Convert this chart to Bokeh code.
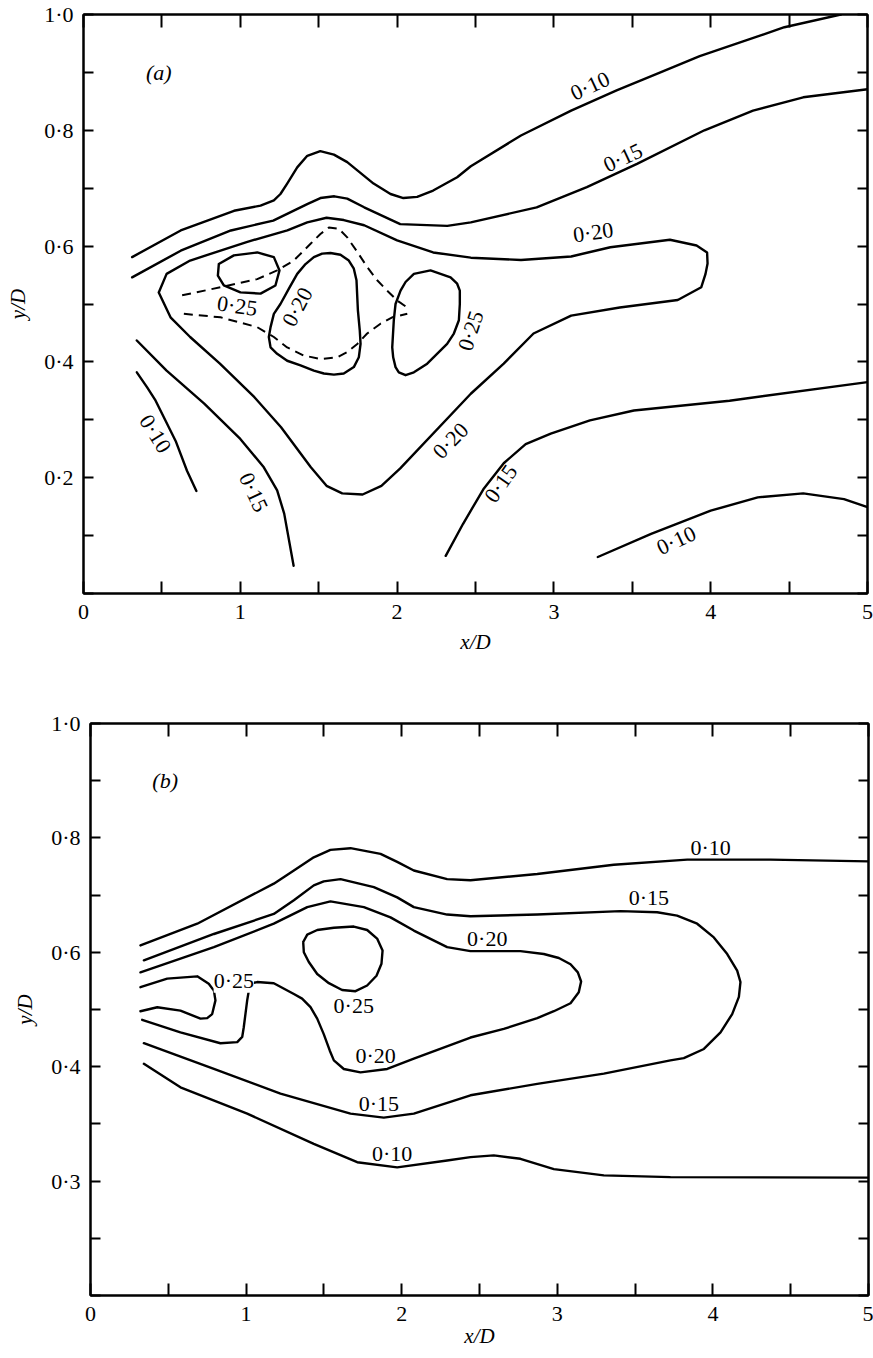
import numpy as np
from bokeh.plotting import figure
from bokeh.models import (LinearAxis, FixedTicker, CustomJSTickFormatter, Label,
                          ColumnDataSource, Range1d)
from bokeh.layouts import column
from bokeh.core.properties import value
from bokeh.embed import file_html
from bokeh.resources import INLINE

FONT = "Liberation Serif"

# ---------------- axis ticks / labels ----------------
X_TICKS = [0.0, 0.5, 1.0, 1.5, 2.0, 2.5, 3.0, 3.5, 4.0, 4.5, 5.0]
X_LABEL_VALUES = [0.0, 1.0, 2.0, 3.0, 4.0, 5.0]
X_LABELS = ["0", "1", "2", "3", "4", "5"]
Y_TICKS = [0.0, 0.1, 0.2, 0.3, 0.4, 0.5, 0.6, 0.7, 0.8, 0.9, 1.0]
YA_LABEL_VALUES = [0.2, 0.4, 0.6, 0.8, 1.0]
YA_LABELS = ["0·2", "0·4", "0·6", "0·8", "1·0"]
YB_LABEL_VALUES = [0.2, 0.4, 0.6, 0.8, 1.0]
YB_LABELS = ["0·3", "0·4", "0·6", "0·8", "1·0"]

# ---------------- panel (a) contours ----------------
A10_UP_X = [0.31, 0.62, 0.96, 1.129, 1.214, 1.256, 1.299, 1.363, 1.427, 1.51, 1.597, 1.682, 1.85, 1.958, 2.04, 2.128, 2.23, 2.383, 2.47, 2.79, 3.11, 3.40, 3.66, 3.93, 4.47, 4.83]
A10_UP_Y = [0.581, 0.627, 0.661, 0.670, 0.679, 0.690, 0.708, 0.736, 0.756, 0.764, 0.758, 0.745, 0.708, 0.690, 0.683, 0.685, 0.696, 0.719, 0.738, 0.791, 0.834, 0.869, 0.898, 0.928, 0.978, 1.0]

A15_UP_X = [0.31, 0.62, 0.94, 1.21, 1.43, 1.511, 1.60, 1.682, 1.79, 2.02, 2.32, 2.47, 2.89, 3.21, 3.53, 3.96, 4.27, 4.59, 5.0]
A15_UP_Y = [0.546, 0.592, 0.627, 0.644, 0.673, 0.683, 0.686, 0.682, 0.667, 0.638, 0.635, 0.641, 0.667, 0.702, 0.742, 0.800, 0.834, 0.857, 0.871]

A20_X = [0.48, 0.53, 0.68, 1.04, 1.30, 1.427, 1.55, 1.660, 1.79, 2.00, 2.23, 2.47, 2.79, 3.11, 3.36, 3.74, 3.91, 3.977, 3.98, 3.967, 3.94, 3.79, 3.42, 3.11, 2.87, 2.68, 2.47, 2.02, 1.90, 1.78, 1.65, 1.55, 1.45, 1.26, 1.09, 0.87, 0.68, 0.555, 0.48]
A20_Y = [0.520, 0.552, 0.575, 0.607, 0.627, 0.641, 0.649, 0.645, 0.636, 0.610, 0.589, 0.580, 0.576, 0.582, 0.598, 0.611, 0.601, 0.589, 0.570, 0.552, 0.529, 0.507, 0.494, 0.480, 0.449, 0.397, 0.345, 0.216, 0.186, 0.171, 0.173, 0.186, 0.218, 0.287, 0.339, 0.397, 0.443, 0.477, 0.520]

A25_LEFT_X = [0.863, 0.959, 1.108, 1.214, 1.25, 1.224, 1.129, 1.001, 0.895, 0.857, 0.863]
A25_LEFT_Y = [0.569, 0.584, 0.589, 0.581, 0.558, 0.532, 0.518, 0.520, 0.532, 0.549, 0.569]

A20_IN_X = [1.182, 1.193, 1.214, 1.256, 1.309, 1.363, 1.416, 1.469, 1.522, 1.575, 1.639, 1.692, 1.724, 1.741, 1.750, 1.762, 1.767, 1.756, 1.724, 1.660, 1.597, 1.533, 1.469, 1.384, 1.299, 1.235, 1.193, 1.182]
A20_IN_Y = [0.443, 0.460, 0.483, 0.500, 0.526, 0.552, 0.569, 0.581, 0.587, 0.588, 0.585, 0.575, 0.561, 0.541, 0.489, 0.454, 0.431, 0.408, 0.391, 0.380, 0.378, 0.380, 0.385, 0.394, 0.402, 0.414, 0.425, 0.443]

A25_RIGHT_X = [1.979, 1.990, 2.022, 2.054, 2.107, 2.213, 2.341, 2.383, 2.400, 2.400, 2.394, 2.362, 2.319, 2.192, 2.107, 2.054, 2.011, 1.990, 1.975, 1.969, 1.979]
A25_RIGHT_Y = [0.472, 0.500, 0.523, 0.538, 0.552, 0.558, 0.546, 0.535, 0.523, 0.500, 0.472, 0.449, 0.431, 0.397, 0.382, 0.377, 0.382, 0.391, 0.408, 0.425, 0.472]

A_DASH_UP_X = [0.629, 0.874, 1.108, 1.235, 1.341, 1.448, 1.511, 1.565, 1.628, 1.682, 1.746, 1.809, 1.873, 1.937, 2.001, 2.075]
A_DASH_UP_Y = [0.515, 0.529, 0.543, 0.558, 0.575, 0.604, 0.621, 0.632, 0.630, 0.615, 0.590, 0.564, 0.541, 0.523, 0.506, 0.492]
A_DASH_LO_X = [0.640, 0.874, 1.108, 1.214, 1.299, 1.405, 1.511, 1.618, 1.682, 1.746, 1.809, 1.894, 1.969, 2.065]
A_DASH_LO_Y = [0.483, 0.477, 0.460, 0.443, 0.425, 0.411, 0.405, 0.408, 0.417, 0.431, 0.449, 0.466, 0.477, 0.483]

A10_LL_X = [0.34, 0.406, 0.46, 0.59, 0.66, 0.72]
A10_LL_Y = [0.382, 0.356, 0.333, 0.262, 0.212, 0.177]

A15_LL_X = [0.34, 0.53, 0.77, 1.00, 1.15, 1.235, 1.28, 1.34]
A15_LL_Y = [0.437, 0.385, 0.328, 0.267, 0.218, 0.178, 0.138, 0.048]

A15_LR_X = [2.31, 2.42, 2.55, 2.68, 2.82, 2.98, 3.23, 3.51, 4.12, 5.0]
A15_LR_Y = [0.065, 0.12, 0.18, 0.225, 0.258, 0.276, 0.299, 0.316, 0.333, 0.365]

A10_LR_X = [3.28, 3.62, 4.00, 4.30, 4.59, 4.85, 5.0]
A10_LR_Y = [0.063, 0.103, 0.143, 0.166, 0.173, 0.163, 0.149]

A_LABEL_X = [3.23, 3.44, 3.25, 0.98, 1.363, 2.468, 0.459, 1.086, 2.34, 2.66, 3.78]
A_LABEL_Y = [0.877, 0.753, 0.624, 0.497, 0.495, 0.454, 0.276, 0.175, 0.264, 0.19, 0.092]
A_LABEL_TEXT = ["0·10", "0·15", "0·20", "0·25", "0·20", "0·25", "0·10", "0·15", "0·20", "0·15", "0·10"]
A_LABEL_ANGLE = [25, 25, 8, -8, 62, 72, -58, -65, 46, 55, 25]

# ---------------- panel (b) contours ----------------
B10_UP_X = [0.321, 0.686, 1.178, 1.307, 1.435, 1.542, 1.671, 1.864, 1.971, 2.078, 2.292, 2.442, 2.871, 3.363, 3.835, 4.370, 5.0]
B10_UP_Y = [0.612, 0.650, 0.720, 0.743, 0.766, 0.779, 0.782, 0.772, 0.758, 0.743, 0.728, 0.726, 0.737, 0.753, 0.762, 0.762, 0.759]

B15_X = [0.343, 0.793, 1.178, 1.307, 1.435, 1.499, 1.607, 1.821, 1.971, 2.078, 2.292, 2.442, 2.871, 3.406, 3.642, 3.770, 3.899, 4.006, 4.092, 4.156, 4.177, 4.167, 4.124, 4.049, 3.942, 3.813, 3.727, 3.299, 2.871, 2.442, 2.078, 1.885, 1.671, 1.221, 0.793, 0.343]
B15_Y = [0.586, 0.632, 0.667, 0.691, 0.717, 0.724, 0.728, 0.714, 0.696, 0.679, 0.666, 0.663, 0.666, 0.672, 0.670, 0.664, 0.650, 0.626, 0.597, 0.568, 0.548, 0.522, 0.492, 0.460, 0.431, 0.415, 0.411, 0.388, 0.370, 0.350, 0.318, 0.311, 0.318, 0.353, 0.396, 0.441]

B20_X = [0.321, 0.793, 1.178, 1.393, 1.542, 1.757, 1.928, 2.078, 2.292, 2.442, 2.763, 2.913, 3.010, 3.085, 3.132, 3.153, 3.138, 3.085, 2.978, 2.871, 2.656, 2.442, 2.078, 1.907, 1.735, 1.628, 1.564, 1.538, 1.499, 1.457, 1.414, 1.360, 1.307, 1.178, 1.071, 1.025, 1.007, 0.985, 0.975, 0.943, 0.835, 0.578, 0.332]
B20_Y = [0.565, 0.609, 0.650, 0.679, 0.689, 0.679, 0.661, 0.638, 0.609, 0.602, 0.602, 0.597, 0.590, 0.579, 0.565, 0.549, 0.530, 0.511, 0.497, 0.485, 0.466, 0.451, 0.414, 0.396, 0.390, 0.396, 0.411, 0.428, 0.457, 0.484, 0.504, 0.519, 0.527, 0.546, 0.548, 0.545, 0.516, 0.469, 0.452, 0.443, 0.441, 0.460, 0.482]

B25_LEFT_X = [0.321, 0.493, 0.686, 0.760, 0.793, 0.803, 0.782, 0.750, 0.707, 0.578, 0.429, 0.321]
B25_LEFT_Y = [0.539, 0.554, 0.558, 0.545, 0.533, 0.516, 0.492, 0.485, 0.484, 0.498, 0.504, 0.497]

B25_MID_X = [1.367, 1.393, 1.457, 1.564, 1.692, 1.778, 1.842, 1.877, 1.870, 1.838, 1.778, 1.703, 1.617, 1.532, 1.457, 1.403, 1.371, 1.367]
B25_MID_Y = [0.618, 0.631, 0.639, 0.643, 0.645, 0.639, 0.624, 0.603, 0.580, 0.559, 0.542, 0.532, 0.534, 0.546, 0.562, 0.583, 0.600, 0.618]

B10_LO_X = [0.343, 0.578, 1.007, 1.435, 1.714, 1.971, 2.292, 2.442, 2.592, 2.763, 2.978, 3.299, 3.727, 5.0]
B10_LO_Y = [0.405, 0.364, 0.318, 0.265, 0.233, 0.224, 0.236, 0.242, 0.245, 0.239, 0.221, 0.210, 0.207, 0.206]

B_LABEL_X = [3.985, 3.588, 2.55, 1.692, 1.832, 1.853, 1.939]
B_LABEL_Y = [0.784, 0.696, 0.624, 0.507, 0.420, 0.335, 0.248]
B_LABEL_TEXT = ["0·10", "0·15", "0·20", "0·25", "0·20", "0·15", "0·10"]
B_LABEL_ANGLE = [0, 0, 0, 0, 0, 0, 0]
B_BOXED_X = [0.921]
B_BOXED_Y = [0.551]
B_BOXED_TEXT = ["0·25"]

PANEL_TAG_X = 0.48
PANEL_TAG_Y = 0.90


def make_panel(frame_w, frame_h, left, right, top, bottom, ylab_vals, ylabs, tag,
               xlab_standoff, margin_left=0):
    p = figure(frame_width=frame_w, frame_height=frame_h,
               x_range=Range1d(0, 5), y_range=Range1d(0, 1),
               output_backend="svg", toolbar_location=None,
               min_border_left=left, min_border_right=right,
               min_border_top=top, min_border_bottom=bottom,
               background_fill_color="white", border_fill_color="white",
               margin=(0, 0, 0, margin_left))
    p.grid.visible = False
    p.outline_line_color = "black"
    p.outline_line_width = 2

    def style(ax, ticks, tick_len, labels=None, label_vals=None):
        ax.ticker = FixedTicker(ticks=ticks, minor_ticks=[])
        ax.major_tick_in = tick_len
        ax.major_tick_out = 0
        ax.minor_tick_in = 0
        ax.minor_tick_out = 0
        ax.axis_line_width = 2
        ax.axis_line_color = "black"
        ax.major_tick_line_width = 2
        ax.major_tick_line_color = "black"
        ax.formatter = CustomJSTickFormatter(code="return ''")
        if labels is not None:
            ax.major_label_overrides = {v: t for v, t in zip(label_vals, labels)}
            ax.major_label_text_font = FONT
            ax.major_label_text_font_size = "22px"
            ax.major_label_text_color = "black"
        else:
            ax.major_label_text_font_size = "0px"
            ax.major_label_standoff = 0

    bx = p.xaxis[0]
    style(bx, X_TICKS, 12, X_LABELS, X_LABEL_VALUES)
    bx.major_label_standoff = 11
    bx.axis_label = "x/D"
    bx.axis_label_text_font = FONT
    bx.axis_label_text_font_style = "italic"
    bx.axis_label_text_font_size = "21px"
    bx.axis_label_text_color = "black"
    bx.axis_label_standoff = xlab_standoff

    ly = p.yaxis[0]
    style(ly, Y_TICKS, 10, ylabs, ylab_vals)
    ly.major_label_standoff = 10
    ly.axis_label = "y/D"
    ly.axis_label_text_font = FONT
    ly.axis_label_text_font_style = "italic"
    ly.axis_label_text_font_size = "21px"
    ly.axis_label_text_color = "black"
    ly.axis_label_standoff = 11

    tx = LinearAxis()
    style(tx, X_TICKS, 13)
    p.add_layout(tx, "above")
    ry = LinearAxis()
    style(ry, Y_TICKS, 10)
    p.add_layout(ry, "right")

    p.add_layout(Label(x=PANEL_TAG_X, y=PANEL_TAG_Y, text=tag, text_font=FONT,
                       text_font_style="italic", text_font_size="22px",
                       text_color="black",
                       text_align="center", text_baseline="middle"))
    return p


def draw(p, xs, ys, dashed=False):
    if dashed:
        p.line(xs, ys, line_color="black", line_width=2.0, line_dash="9 6")
    else:
        p.line(xs, ys, line_color="black", line_width=2.4,
               line_join="round", line_cap="round")


def labels(p, xs, ys, texts, angles):
    src = ColumnDataSource(dict(x=xs, y=ys, text=texts, angle=angles))
    p.text(x="x", y="y", text="text", angle="angle", angle_units="deg", source=src,
           text_font=value(FONT), text_font_size="22px", text_color="black",
           text_align="center", text_baseline="middle")


# ---------- panel a ----------
pa = make_panel(784, 579, 83, 6, 14, 87, YA_LABEL_VALUES, YA_LABELS, "(a)", 8)
for xs, ys in [(A10_UP_X, A10_UP_Y), (A15_UP_X, A15_UP_Y), (A20_X, A20_Y),
               (A25_LEFT_X, A25_LEFT_Y), (A20_IN_X, A20_IN_Y), (A25_RIGHT_X, A25_RIGHT_Y),
               (A10_LL_X, A10_LL_Y), (A15_LL_X, A15_LL_Y), (A15_LR_X, A15_LR_Y),
               (A10_LR_X, A10_LR_Y)]:
    draw(pa, xs, ys)
draw(pa, A_DASH_UP_X, A_DASH_UP_Y, dashed=True)
draw(pa, A_DASH_LO_X, A_DASH_LO_Y, dashed=True)
labels(pa, A_LABEL_X, A_LABEL_Y, A_LABEL_TEXT, A_LABEL_ANGLE)

# ---------- panel b ----------
pb = make_panel(778, 572, 83, 5, 43, 63, YB_LABEL_VALUES, YB_LABELS, "(b)", 0, margin_left=7)
for xs, ys in [(B10_UP_X, B10_UP_Y), (B15_X, B15_Y), (B20_X, B20_Y),
               (B25_LEFT_X, B25_LEFT_Y), (B25_MID_X, B25_MID_Y), (B10_LO_X, B10_LO_Y)]:
    draw(pb, xs, ys)
labels(pb, B_LABEL_X, B_LABEL_Y, B_LABEL_TEXT, B_LABEL_ANGLE)
for bxv, byv, bt in zip(B_BOXED_X, B_BOXED_Y, B_BOXED_TEXT):
    pb.add_layout(Label(x=bxv, y=byv, text=bt, text_font=FONT, text_font_size="22px",
                        text_color="black",
                        text_align="center", text_baseline="middle",
                        background_fill_color="white", background_fill_alpha=1.0))

layout = column(pa, pb, spacing=0)
open("out.html", "w").write(file_html(layout, INLINE))
